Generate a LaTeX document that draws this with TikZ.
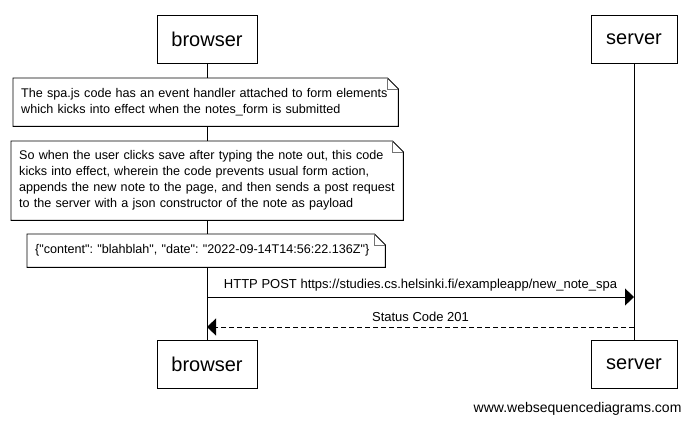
\documentclass[tikz,border=0pt]{standalone}
\usepackage{fontspec}
\setmainfont{Liberation Sans}[Ligatures=TeXOff]
\usetikzlibrary{arrows.meta}

\begin{document}
\begin{tikzpicture}[x=1pt,y=-1pt,
  >={Triangle[length=9pt,width=17pt]},
  actor/.style={draw,line width=0.9pt,fill=white,minimum height=48pt,inner sep=0pt,
                font=\fontsize{20}{24}\selectfont},
  memo/.style={fill=white,anchor=north west,inner xsep=8pt,inner ysep=0pt,align=left,
               font=\fontsize{12.6}{16}\selectfont\frenchspacing},
  memoline/.style={line width=0.9pt},
  fold/.style={line width=0.7pt,black!55},
  lifeline/.style={line width=0.9pt},
  msg/.style={line width=0.9pt,->},
  reply/.style={msg,dash pattern=on 5pt off 3pt},
  msglabel/.style={font=\fontsize{13}{16}\selectfont,above=2pt}
]
\useasboundingbox (0,0) rectangle (692,424);
% participants, top and bottom
\node[actor,minimum width=100pt] (bt) at (207,39)  {browser};
\node[actor,minimum width=86pt]  (st) at (634,39)  {server};
\node[actor,minimum width=100pt] (bb) at (207,364) {browser};
\node[actor,minimum width=86pt]  (sb) at (634,364) {server};

% lifelines
\draw[lifeline] (bt.south)--(bb.north);
\draw[lifeline] (st.south)--(sb.north);

% notes over the browser
\node[memo,text width=369pt,minimum height=48pt] (n1) at (13,78)
  {The spa.js code has an event handler attached to form elements\\
   which kicks into effect when the notes\_form is submitted};
\node[memo,text width=376pt,minimum height=79pt] (n2) at (11,141)
  {So when the user clicks save after typing the note out, this code\\
   kicks into effect, wherein the code prevents usual form action,\\
   appends the new note to the page, and then sends a post request\\
   to the server with a json constructor of the note as payload};
\node[memo,text width=342pt,minimum height=33pt] (n3) at (27,234)
  {\{"content": "blahblah", "date": "2022-09-14T14:56:22.136Z"\}};
\foreach \n in {n1,n2,n3}{
  \draw[memoline] (\n.north west)--([xshift=-11pt]\n.north east)
    --([yshift=-11pt]\n.north east)--(\n.south east)--(\n.south west)--cycle;
  \draw[fold] ([xshift=-11pt]\n.north east)|-([yshift=-11pt]\n.north east);
}

% messages
\coordinate (b1) at (207,297);
\coordinate (s1) at (634,297);
\coordinate (b2) at (207,327);
\coordinate (s2) at (634,327);
\draw[msg] (b1)--(s1)
  node[msglabel,midway] {HTTP POST https://studies.cs.helsinki.fi/exampleapp/new\_note\_spa};
\draw[reply] (s2)--(b2) node[msglabel,midway] {Status Code 201};

\node[anchor=east,font=\fontsize{14}{16}\selectfont] (wm) at (685,409)
  {www.websequencediagrams.com};
\end{tikzpicture}
\end{document}
